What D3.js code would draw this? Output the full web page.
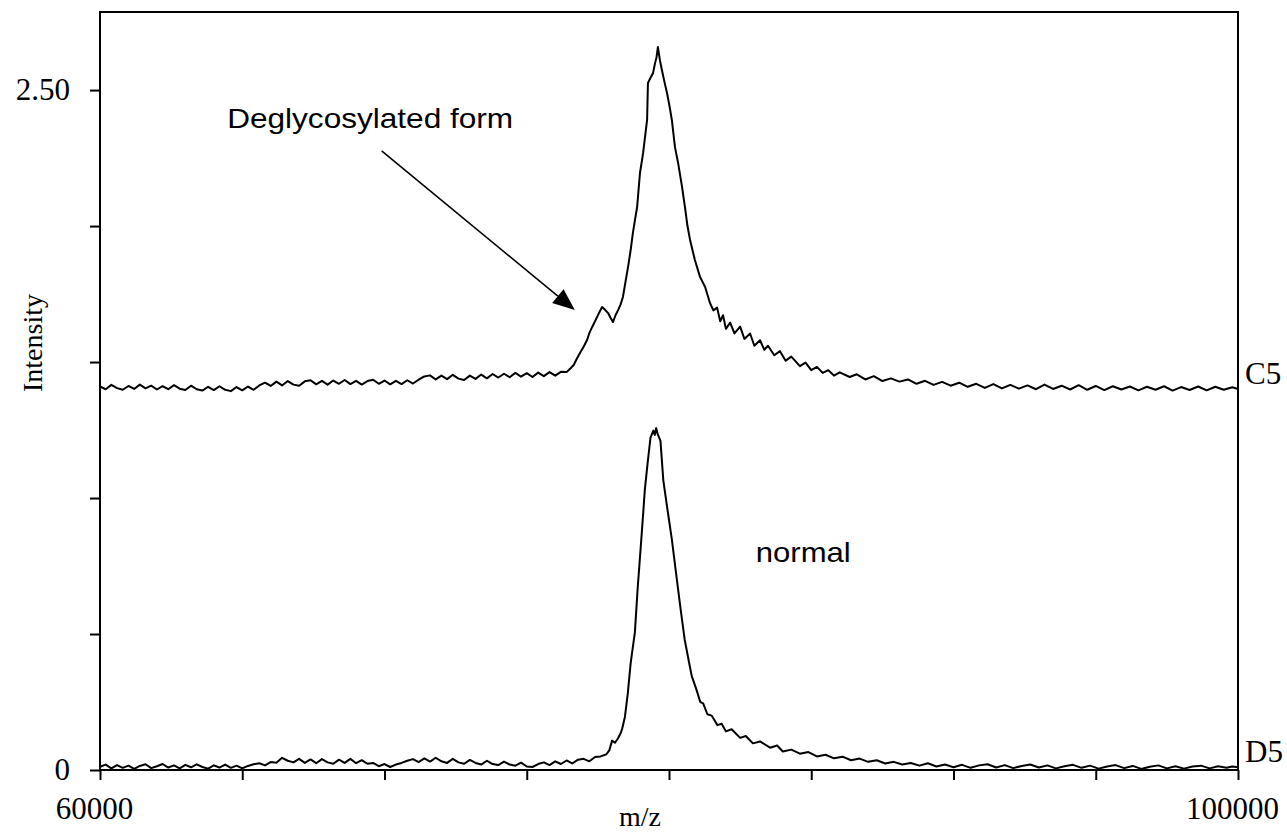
<!DOCTYPE html>
<html><head><meta charset="utf-8">
<script src="https://cdn.jsdelivr.net/npm/d3@7"></script>
<style>
html,body{margin:0;padding:0;background:#fff;}
svg{display:block;}
</style></head>
<body>
<svg id="chart" width="1287" height="832"></svg>
<script>
// ---- data ----
const xTicks = [60000,65000,70000,75000,80000,85000,90000,95000,100000];
const xTickLabels = {60000:"60000",100000:"100000"};
const yTicks = [0,0.5,1,1.5,2,2.5];
const yTickLabels = {0:"0",2.5:"2.50"};

const d5Mz = [60000,60200,60400,60600,60800,61000,61200,61400,61600,61800,62000,62200,62400,62600,62800,63000,63200,63400,63600,63800,64000,64200,64400,64600,64800,65000,65200,65400,65600,65800,66000,66200,66400,66600,66800,67000,67200,67400,67600,67800,68000,68200,68400,68600,68800,69000,69200,69400,69600,69800,70000,70200,70400,70600,70800,71000,71200,71400,71600,71800,72000,72200,72400,72600,72800,73000,73200,73400,73600,73800,74000,74200,74400,74600,74800,75000,75200,75400,75600,75800,76000,76200,76400,76600,76800,77000,77200,77400,
77600,77800,77900,78000,78100,78200,78300,78350,78450,78550,78650,78700,78800,78900,79000,79100,79150,79250,79350,79450,79500,79550,79600,79700,79800,79950,80100,80250,80400,80550,80700,80800,80950,81100,81200,81350,81500,81700,81850,82000,82200,82500,82700,82950,83200,83550,83800,84000,84300,84600,84900,85200,85500,85800,86100,86400,86700,87000,87300,87600,87900,88200,88500,
88800,89100,89400,89700,90000,90300,90600,90900,91200,91500,91800,92100,92400,92700,93000,93300,93600,93900,94200,94500,94800,95100,95400,95700,96000,96300,96600,96900,97200,97500,97800,98100,98400,98700,99000,99300,99600,99800,100000];
const d5Int = [0.012,0.020,0.006,0.018,0.008,0.016,0.004,0.015,0.021,0.007,
0.014,0.022,0.009,0.017,0.006,0.019,0.010,0.021,0.011,0.005,
0.017,0.009,0.020,0.008,0.016,0.006,0.015,0.021,0.025,0.017,
0.029,0.027,0.045,0.034,0.028,0.041,0.026,0.039,0.025,0.040,
0.028,0.023,0.038,0.026,0.041,0.025,0.036,0.023,0.026,0.014,
0.022,0.011,0.020,0.026,0.034,0.040,0.029,0.043,0.031,0.045,
0.032,0.026,0.041,0.028,0.023,0.037,0.026,0.020,0.034,0.022,
0.018,0.031,0.020,0.016,0.027,0.013,0.011,0.022,0.028,0.018,
0.032,0.022,0.035,0.024,0.038,0.041,0.032,0.048,
0.050,0.058,0.072,0.108,0.100,0.115,0.135,0.150,0.195,0.280,0.390,0.430,0.505,0.670,0.810,0.955,1.030,1.130,1.222,1.248,1.232,1.257,1.236,1.210,1.065,0.955,0.848,0.722,0.598,0.480,0.398,0.345,0.300,0.250,0.245,0.205,0.200,0.165,0.170,0.142,0.150,0.118,0.125,0.098,0.105,0.082,0.090,0.068,0.075,0.060,0.066,0.050,0.056,0.043,0.049,0.036,0.042,0.030,0.036,0.024,0.030,0.020,0.026,
0.016,0.025,0.013,0.020,0.010,0.019,0.008,0.017,0.021,0.009,0.018,0.007,0.015,0.020,0.009,0.017,0.006,0.014,0.019,0.008,0.016,0.005,0.013,0.018,0.007,0.015,0.004,0.012,0.017,0.006,0.014,0.005,0.013,0.016,0.006,0.014,0.008,0.013,0.010];

const c5Mz = [60000,60200,60400,60600,60800,61000,61200,61400,61600,61800,62000,62200,62400,62600,62800,63000,63200,63400,63600,63800,64000,64200,64400,64600,64800,65000,65200,65400,65600,65800,66000,66200,66400,66600,66800,67000,67200,67400,67600,67800,68000,68200,68400,68600,68800,69000,69200,69400,69600,69800,70000,70200,70400,70600,70800,71000,71200,71400,71600,71800,72000,72200,72400,72600,72800,73000,73200,73400,73600,73800,74000,74200,74400,74600,74800,75000,75200,75400,75600,75800,76000,76200,76400,
76550,76650,76750,76870,77000,77120,77200,77300,77400,77470,77560,77650,77750,77860,77950,78030,78120,78210,78300,78380,78470,78560,78650,78730,78800,78880,78980,79090,79160,79230,79260,79350,79440,79510,79560,79610,79680,79750,79840,79930,80020,80100,80210,80320,80460,80560,80650,80740,80910,81090,81270,81440,
81560,81690,81800,81900,82000,82150,82300,82500,82650,82850,83000,83200,83350,83480,83700,83900,84100,84300,84600,84800,85000,85200,85400,85600,85800,86000,86350,86600,86900,87200,87500,87800,88100,88400,88700,89000,89300,89600,89900,
90200,90500,90800,91100,91400,91700,92000,92300,92600,92900,93200,93500,93800,94100,94400,94700,95000,95300,95600,95900,96200,96500,96800,97100,97400,97700,98000,98300,98600,98900,99200,99500,99800,100000];
const c5Int = [1.410,1.400,1.416,1.404,1.398,1.412,1.401,1.417,1.403,1.413,
1.399,1.411,1.400,1.415,1.402,1.397,1.413,1.400,1.395,1.409,
1.397,1.411,1.398,1.393,1.408,1.396,1.410,1.398,1.414,1.424,
1.412,1.428,1.414,1.430,1.417,1.413,1.429,1.433,1.418,1.431,
1.417,1.432,1.420,1.434,1.419,1.431,1.417,1.430,1.435,1.420,
1.432,1.418,1.431,1.419,1.433,1.421,1.435,1.447,1.451,1.436,
1.450,1.437,1.453,1.439,1.434,1.450,1.438,1.454,1.440,1.456,
1.443,1.457,1.444,1.460,1.446,1.459,1.445,1.461,1.448,1.463,
1.450,1.464,1.463,
1.478,1.489,1.510,1.533,1.556,1.581,1.606,1.629,1.650,1.665,1.685,1.702,1.692,1.680,1.662,1.647,1.672,1.691,1.712,1.739,1.795,1.849,1.910,1.974,2.020,2.070,2.195,2.268,2.330,2.390,2.526,2.545,2.563,2.599,2.620,2.658,2.610,2.574,2.530,2.489,2.440,2.390,2.290,2.232,2.143,2.070,2.000,1.949,1.875,1.813,1.776,1.717,
1.690,1.700,1.650,1.672,1.622,1.645,1.605,1.630,1.585,1.605,1.560,1.580,1.545,1.560,1.525,1.540,1.505,1.520,1.485,1.498,1.470,1.482,1.460,1.470,1.450,1.462,1.445,1.455,1.436,1.448,1.430,1.440,1.428,1.436,1.420,1.431,1.416,1.427,1.413,
1.424,1.409,1.420,1.405,1.419,1.403,1.416,1.402,1.414,1.400,1.417,1.401,1.413,1.399,1.415,1.398,1.412,1.397,1.411,1.399,1.410,1.396,1.409,1.398,1.411,1.395,1.408,1.397,1.410,1.396,1.409,1.398,1.407,1.401];

// annotations (data-space anchors)
const annotText = "Deglycosylated form";
const annotTextPos = [64470, 2.360];
const arrowFrom = [69900, 2.276];
const arrowTo = [76690, 1.691];
const normalText = "normal";
const normalPos = [83050, 0.763];

// ---- layout ----
const svg = d3.select("#chart");
const x = d3.scaleLinear().domain([60000,100000]).range([100,1238]);
const y = d3.scaleLinear().domain([0,2.787]).range([770,12]);
const serif = "'Liberation Serif','Times New Roman',serif";
const sans = "'Liberation Sans',Arial,sans-serif";

// frame
svg.append("rect").attr("x",100).attr("y",12).attr("width",1138).attr("height",758)
  .attr("fill","none").attr("stroke","#000").attr("stroke-width",2);

// y axis
const yAxis = d3.axisLeft(y).tickValues(yTicks).tickSize(10).tickPadding(20)
  .tickFormat(d => yTickLabels[d] || "");
const gy = svg.append("g").attr("transform","translate(100,0)").call(yAxis);
gy.select(".domain").remove();
gy.selectAll("line").attr("stroke","#000").attr("stroke-width",2);
gy.selectAll("text").attr("font-family",serif).attr("font-size",31).attr("fill","#000");

// x axis
const xAxis = d3.axisBottom(x).tickValues(xTicks).tickSize(10).tickPadding(17)
  .tickFormat(d => xTickLabels[d] || "");
const gx = svg.append("g").attr("transform","translate(0,770)").call(xAxis);
gx.select(".domain").remove();
gx.selectAll("line").attr("stroke","#000").attr("stroke-width",2);
gx.selectAll("text").attr("font-family",serif).attr("font-size",31).attr("fill","#000")
  .attr("dx", -6);

// axis titles
svg.append("text").attr("x",640).attr("y",826).attr("text-anchor","middle")
  .attr("font-family",serif).attr("font-size",28).text("m/z");
svg.append("text").attr("transform","translate(42,343) rotate(-90)").attr("text-anchor","middle")
  .attr("font-family",serif).attr("font-size",28).text("Intensity");

// traces
const line = d3.line().x(d => x(d[0])).y(d => y(d[1]));
const series = [
  {name:"C5", mz:c5Mz, v:c5Int},
  {name:"D5", mz:d5Mz, v:d5Int}
];
series.forEach(s => {
  const pts = s.mz.map((m,i) => [m, s.v[i]]);
  svg.append("path").datum(pts).attr("d",line)
    .attr("fill","none").attr("stroke","#000").attr("stroke-width",2)
    .attr("stroke-linejoin","round");
  const last = pts[pts.length-1];
  svg.append("text").attr("x",x(100000)+7).attr("y",y(last[1])-5)
    .attr("font-family",serif).attr("font-size",31).text(s.name);
});

// annotation text
svg.append("text").attr("x",x(annotTextPos[0])).attr("y",y(annotTextPos[1]))
  .attr("font-family",sans).attr("font-size",28)
  .attr("textLength",286).attr("lengthAdjust","spacingAndGlyphs").text(annotText);
svg.append("text").attr("x",x(normalPos[0])).attr("y",y(normalPos[1]))
  .attr("font-family",sans).attr("font-size",28)
  .attr("textLength",95).attr("lengthAdjust","spacingAndGlyphs").text(normalText);

// arrow
const x1 = x(arrowFrom[0]), y1 = y(arrowFrom[1]), x2 = x(arrowTo[0]), y2 = y(arrowTo[1]);
const ang = Math.atan2(y2-y1, x2-x1);
const headL = 22, headW = 9;
const bx = x2 - headL*Math.cos(ang), by = y2 - headL*Math.sin(ang);
svg.append("line").attr("x1",x1).attr("y1",y1).attr("x2",bx).attr("y2",by)
  .attr("stroke","#000").attr("stroke-width",1.6);
svg.append("polygon").attr("points",[
  [x2,y2],
  [bx + headW*Math.sin(ang), by - headW*Math.cos(ang)],
  [bx - headW*Math.sin(ang), by + headW*Math.cos(ang)]
].map(p=>p.join(",")).join(" ")).attr("fill","#000");
</script>
</body></html>
